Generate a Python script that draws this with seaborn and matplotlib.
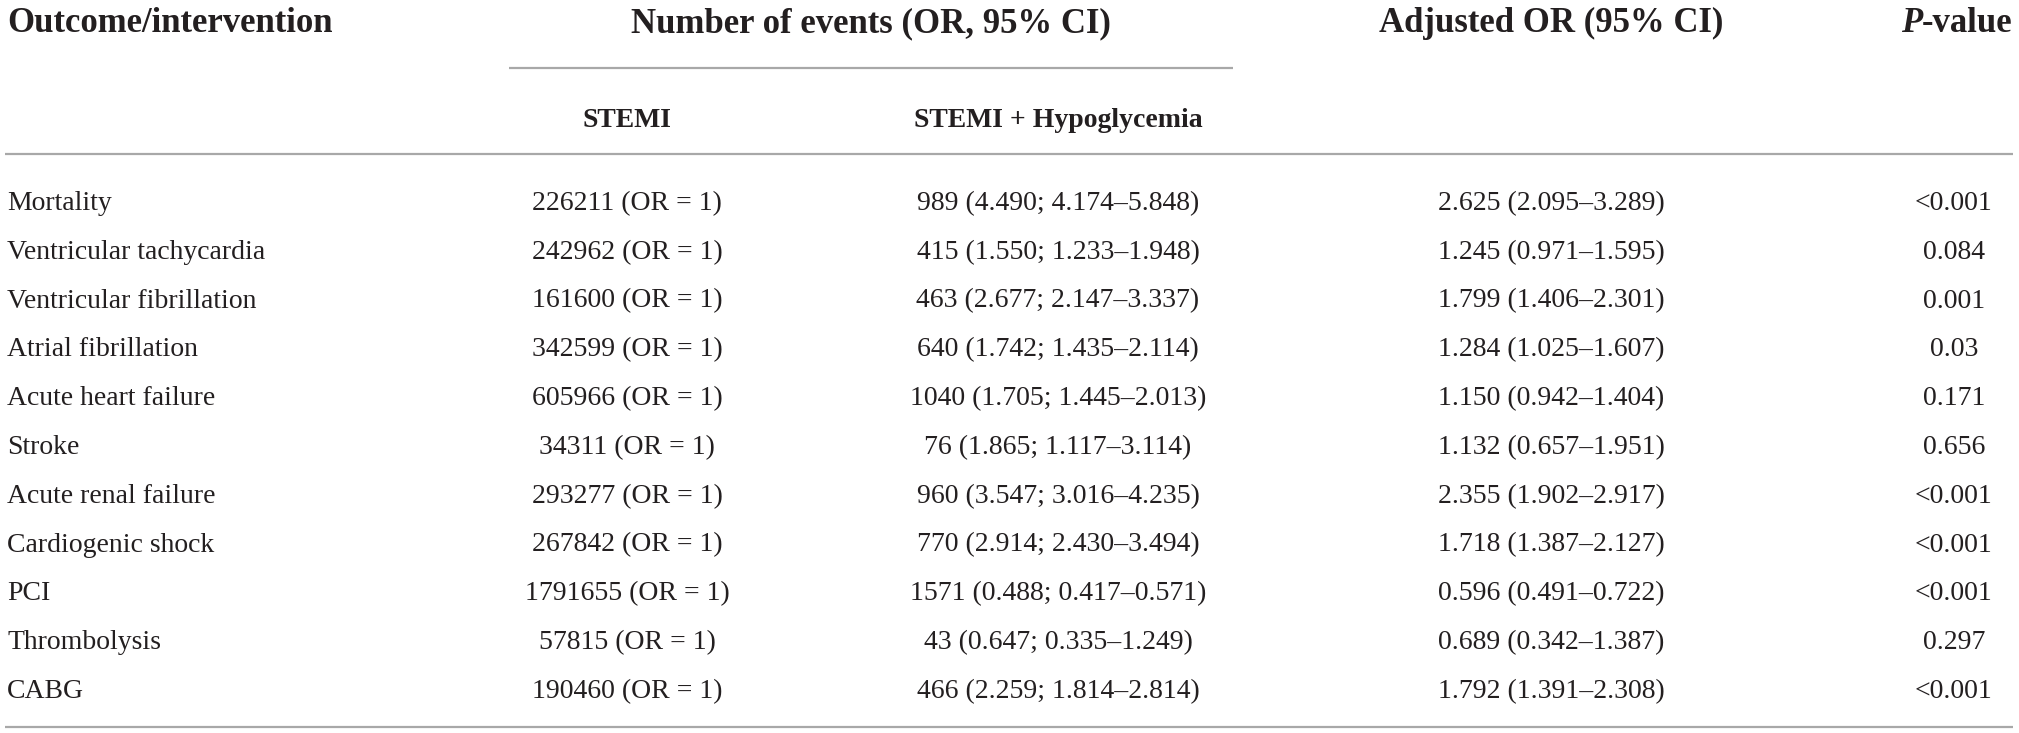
import matplotlib
matplotlib.use("Agg")
import matplotlib.pyplot as plt
import seaborn as sns
import pandas as pd

# ---------------- data ----------------
outcomes = ["Mortality", "Ventricular tachycardia", "Ventricular fibrillation",
            "Atrial fibrillation", "Acute heart failure", "Stroke",
            "Acute renal failure", "Cardiogenic shock", "PCI", "Thrombolysis", "CABG"]
stemi_events = [226211, 242962, 161600, 342599, 605966, 34311, 293277, 267842,
                1791655, 57815, 190460]
hypo_events = [989, 415, 463, 640, 1040, 76, 960, 770, 1571, 43, 466]
hypo_or = [4.490, 1.550, 2.677, 1.742, 1.705, 1.865, 3.547, 2.914, 0.488, 0.647, 2.259]
hypo_lo = [4.174, 1.233, 2.147, 1.435, 1.445, 1.117, 3.016, 2.430, 0.417, 0.335, 1.814]
hypo_hi = [5.848, 1.948, 3.337, 2.114, 2.013, 3.114, 4.235, 3.494, 0.571, 1.249, 2.814]
adj_or = [2.625, 1.245, 1.799, 1.284, 1.150, 1.132, 2.355, 1.718, 0.596, 0.689, 1.792]
adj_lo = [2.095, 0.971, 1.406, 1.025, 0.942, 0.657, 1.902, 1.387, 0.491, 0.342, 1.391]
adj_hi = [3.289, 1.595, 2.301, 1.607, 1.404, 1.951, 2.917, 2.127, 0.722, 1.387, 2.308]
p_values = ["<0.001", "0.084", "0.001", "0.03", "0.171", "0.656", "<0.001",
            "<0.001", "<0.001", "0.297", "<0.001"]

header_main = ["Outcome/intervention", "Number of events (OR, 95% CI)",
               "Adjusted OR (95% CI)"]
sub_headers = ["STEMI", "STEMI + Hypoglycemia"]

df = pd.DataFrame({
    "outcome": outcomes,
    "stemi": [f"{n} (OR = 1)" for n in stemi_events],
    "hypo": [f"{n} ({o:.3f}; {l:.3f}\u2013{h:.3f})"
             for n, o, l, h in zip(hypo_events, hypo_or, hypo_lo, hypo_hi)],
    "adj": [f"{o:.3f} ({l:.3f}\u2013{h:.3f})" for o, l, h in zip(adj_or, adj_lo, adj_hi)],
    "p": p_values,
})

# ---------------- style ----------------
sns.set_theme(style="white")
plt.rcParams["font.family"] = ["Liberation Serif", "DejaVu Serif"]

W, H = 2019, 733
fig = plt.figure(figsize=(W / 100, H / 100), dpi=100)
ax = fig.add_axes([0, 0, 1, 1])
ax.set_xlim(0, W)
ax.set_ylim(H, 0)
ax.axis("off")
sns.despine(ax=ax, left=True, bottom=True)

TXT = "#231f20"
RULE = "#a8a8a8"
FS_DATA = 20
FS_HEAD = 25

x_out, x_stemi, x_hypo, x_adj, x_p = 7, 627, 1058, 1551, 1954
x_pright = 2012

# headers
ax.text(x_out, 32, header_main[0], fontsize=FS_HEAD, fontweight="bold",
        color=TXT, ha="left", va="baseline")
ax.text(871, 32, header_main[1], fontsize=FS_HEAD, fontweight="bold",
        color=TXT, ha="center", va="baseline")
ax.text(x_adj, 32, header_main[2], fontsize=FS_HEAD, fontweight="bold",
        color=TXT, ha="center", va="baseline")
tv = ax.text(x_pright, 32, "-value", fontsize=FS_HEAD, fontweight="bold",
             color=TXT, ha="right", va="baseline")
fig.canvas.draw()
bb = tv.get_window_extent(renderer=fig.canvas.get_renderer())
ax.text(bb.x0 + 1, 32, "P", fontsize=FS_HEAD, fontweight="bold", fontstyle="italic",
        color=TXT, ha="right", va="baseline")

# sub headers
ax.text(x_stemi, 127, sub_headers[0], fontsize=FS_DATA, fontweight="bold",
        color=TXT, ha="center", va="baseline")
ax.text(x_hypo, 127, sub_headers[1], fontsize=FS_DATA, fontweight="bold",
        color=TXT, ha="center", va="baseline")

# rules
ax.plot([509, 1233], [68, 68], color=RULE, lw=1.6, solid_capstyle="butt")
ax.plot([5, 2013], [154, 154], color=RULE, lw=1.6, solid_capstyle="butt")
ax.plot([5, 2013], [727, 727], color=RULE, lw=1.6, solid_capstyle="butt")

# body rows
for i, row in df.iterrows():
    yb = 210 + i * 48.8
    ax.text(x_out, yb, row["outcome"], fontsize=FS_DATA, color=TXT,
            ha="left", va="baseline")
    ax.text(x_stemi, yb, row["stemi"], fontsize=FS_DATA, color=TXT,
            ha="center", va="baseline")
    ax.text(x_hypo, yb, row["hypo"], fontsize=FS_DATA, color=TXT,
            ha="center", va="baseline")
    ax.text(x_adj, yb, row["adj"], fontsize=FS_DATA, color=TXT,
            ha="center", va="baseline")
    ax.text(x_p, yb, row["p"], fontsize=FS_DATA, color=TXT,
            ha="center", va="baseline")

fig.savefig("out.png", dpi=100, facecolor="white")
